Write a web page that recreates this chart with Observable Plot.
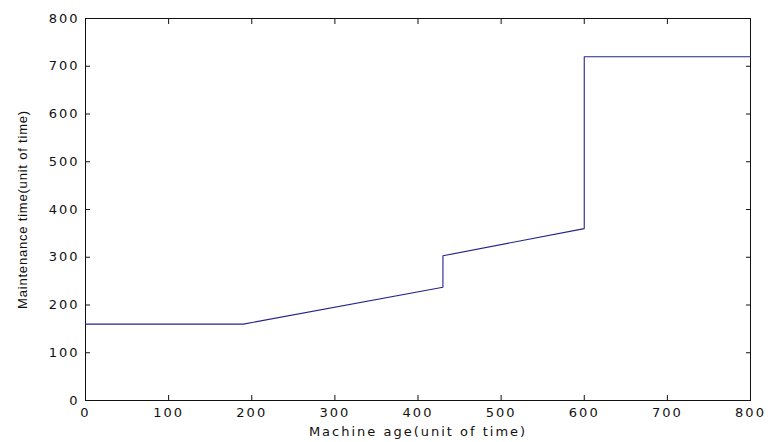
<!DOCTYPE html>
<html>
<head>
<meta charset="utf-8">
<script src="https://cdn.jsdelivr.net/npm/d3@7"></script>
<script src="https://cdn.jsdelivr.net/npm/@observablehq/plot@0.6"></script>
<style>
  html, body { margin: 0; padding: 0; background: #fff; }
  #chart svg { display: block; }
  .ticklab text { font-family: "DejaVu Sans", sans-serif; font-size: 13px; letter-spacing: 2px; }
  .ytitle text { letter-spacing: 0.8px; }
</style>
</head>
<body>
<div id="chart"></div>
<script>
// Maintenance time as a function of machine age (piecewise policy curve)
const machineAge      = [0,   190, 430, 430, 600, 600, 800];
const maintenanceTime = [160, 160, 237, 303, 360, 720, 720];

const xTicks = [0, 100, 200, 300, 400, 500, 600, 700, 800];
const yTicks = [0, 100, 200, 300, 400, 500, 600, 700, 800];

const xTitle = "Machine age(unit of time)";
const yTitle = "Maintenance time(unit of time)";

const points = machineAge.map((a, i) => ({age: a, time: maintenanceTime[i]}));

const chart = Plot.plot({
  width: 768,
  height: 442,
  marginLeft: 85,
  marginRight: 18,
  marginTop: 18,
  marginBottom: 42,
  style: {background: "#fff", color: "#111", fontSize: "13px"},
  x: {domain: [0, 800]},
  y: {domain: [0, 800]},
  marks: [
    // inward ticks on all four sides, labels only bottom and left
    Plot.axisX(xTicks, {anchor: "bottom", tickSize: -5, tickPadding: 12, label: null, className: "ticklab", stroke: "#111"}),
    Plot.axisX(xTicks, {anchor: "top", tickSize: -5, tickFormat: () => "", label: null, stroke: "#111"}),
    Plot.axisY(yTicks, {anchor: "left", tickSize: -5, tickPadding: 11, label: null, className: "ticklab", stroke: "#111"}),
    Plot.axisY(yTicks, {anchor: "right", tickSize: -5, tickFormat: () => "", label: null, stroke: "#111"}),
    Plot.frame({stroke: "#111"}),
    Plot.line(points, {x: "age", y: "time", stroke: "#24248c", strokeWidth: 1.1, curve: "linear"}),
    Plot.text([xTitle], {
      text: d => d, frameAnchor: "bottom", dy: 31, lineAnchor: "middle", textAnchor: "middle",
      fontFamily: "DejaVu Sans", fontSize: 13, className: "ticklab", fill: "#111"
    }),
    Plot.text([yTitle], {
      text: d => d, frameAnchor: "left", dx: -63, rotate: -90, lineAnchor: "middle", textAnchor: "middle",
      fontFamily: "Liberation Sans", fontSize: 13, className: "ytitle", fill: "#111"
    })
  ]
});

document.getElementById("chart").appendChild(chart);
</script>
</body>
</html>
